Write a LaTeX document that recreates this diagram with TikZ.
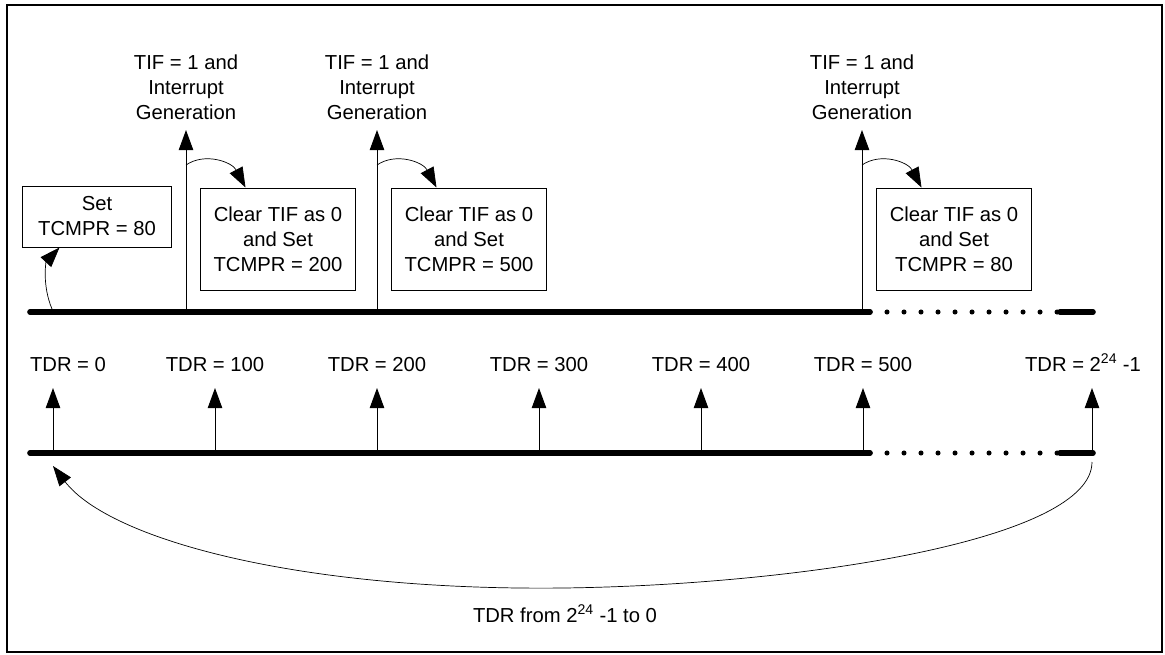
\documentclass[tikz,border=0pt]{standalone}
\usepackage{fontspec}
\setmainfont{Liberation Sans}
\usepackage{tikz}
\usetikzlibrary{arrows.meta, positioning}
\tikzset{
    timeline/.style={
        line width=4pt, line cap=round
    },
    dotline/.style={
        line width=3.6pt, line cap=round, dash pattern=on 0pt off 0.425cm
    },
    tickarrow/.style={
        -{Triangle[length=0.5cm, width=0.36cm]}, line width=0.7pt
    },
    bendarrow/.style={
        -{Triangle[length=0.5cm, width=0.36cm]}, line width=0.5pt
    },
    actbox/.style={
        rectangle, draw, line width=0.7pt, inner sep=0pt,
        minimum width=3.85cm, minimum height=2.55cm, align=center
    },
    setbox/.style={
        actbox, minimum width=3.7cm, minimum height=1.525cm
    },
    lbl/.style={
        align=center, inner sep=0pt
    },
    tdrlbl/.style={
        anchor=base, inner sep=0pt
    },
}
\begin{document}
\begin{tikzpicture}[x=0.025cm, y=-0.025cm, font=\fontsize{14.4}{17.8}\selectfont]

    \useasboundingbox (0,0) rectangle (1165,654);
    \draw[line width=1.4pt] (7,5) rectangle (1162,652);

    % Upper time line (compare events)
    \coordinate (ua) at (30,312);
    \coordinate (ub) at (870,312);
    \coordinate (uc) at (1060,312);
    \coordinate (ud) at (1093,312);
    \draw[timeline] (ua) -- (ub);
    \draw[dotline] (ub) -- (uc);
    \draw[timeline] (uc) -- (ud);

    \node[setbox] (set) at (97,216.5) {Set\\TCMPR = 80};
    \coordinate (s0) at (52,309);
    \draw[bendarrow] (s0) .. controls (42,285) and (46,262) .. ([xshift=0.925cm]set.south west);

    \foreach \x/\n/\v in {186/1/200, 377/2/500, 862/3/80} {
        \coordinate (ib\n) at (\x,312);
        \coordinate (it\n) at (\x,130);
        \coordinate (ic\n) at (\x,165);
        \draw[tickarrow] (ib\n) -- (it\n);
        \node[lbl] (tif\n) at (\x,87) {TIF = 1 and\\Interrupt\\Generation};
        \node[actbox] (clr\n) at (\x+92,239) {Clear TIF as 0\\and Set\\TCMPR = \v};
        \draw[bendarrow] (ic\n) .. controls (\x+19,152) and (\x+46,162) .. ([xshift=1.125cm]clr\n.north west);
    }

    % Lower time line (TDR counter)
    \coordinate (la) at (30,453);
    \coordinate (lb) at (870,453);
    \coordinate (lc) at (1060,453);
    \coordinate (ld) at (1093,453);
    \draw[timeline] (la) -- (lb);
    \draw[dotline] (lb) -- (lc);
    \draw[timeline] (lc) -- (ld);

    \foreach \x/\v in {53/0, 215/100, 377/200, 539/300, 701/400, 863/500} {
        \coordinate (db\v) at (\x,453);
        \coordinate (dt\v) at (\x,388);
        \draw[tickarrow] (db\v) -- (dt\v);
    }
    \node[tdrlbl] (tdr0) at (68,371) {TDR = 0};
    \foreach \x/\v in {215/100, 377/200, 539/300, 701/400, 863/500} {
        \node[tdrlbl] (tdr\v) at (\x,371) {TDR = \v};
    }
    \coordinate (dbmax) at (1092,453);
    \coordinate (dtmax) at (1092,388);
    \draw[tickarrow] (dbmax) -- (dtmax);
    \node[tdrlbl] (tdrmax) at (1083,371) {TDR = 2\textsuperscript{24} -1};

    % Wrap around
    \coordinate (w0) at (1092,462);
    \coordinate (wm) at (563,588);
    \coordinate (w1) at (53,466);
    \draw[bendarrow] (w0) .. controls (1092,540) and (800,585) .. (wm)
        .. controls (300,591) and (110,540) .. (w1);
    \node[tdrlbl] (wraplbl) at (565,622) {TDR from 2\textsuperscript{24} -1 to 0};

\end{tikzpicture}
\end{document}
